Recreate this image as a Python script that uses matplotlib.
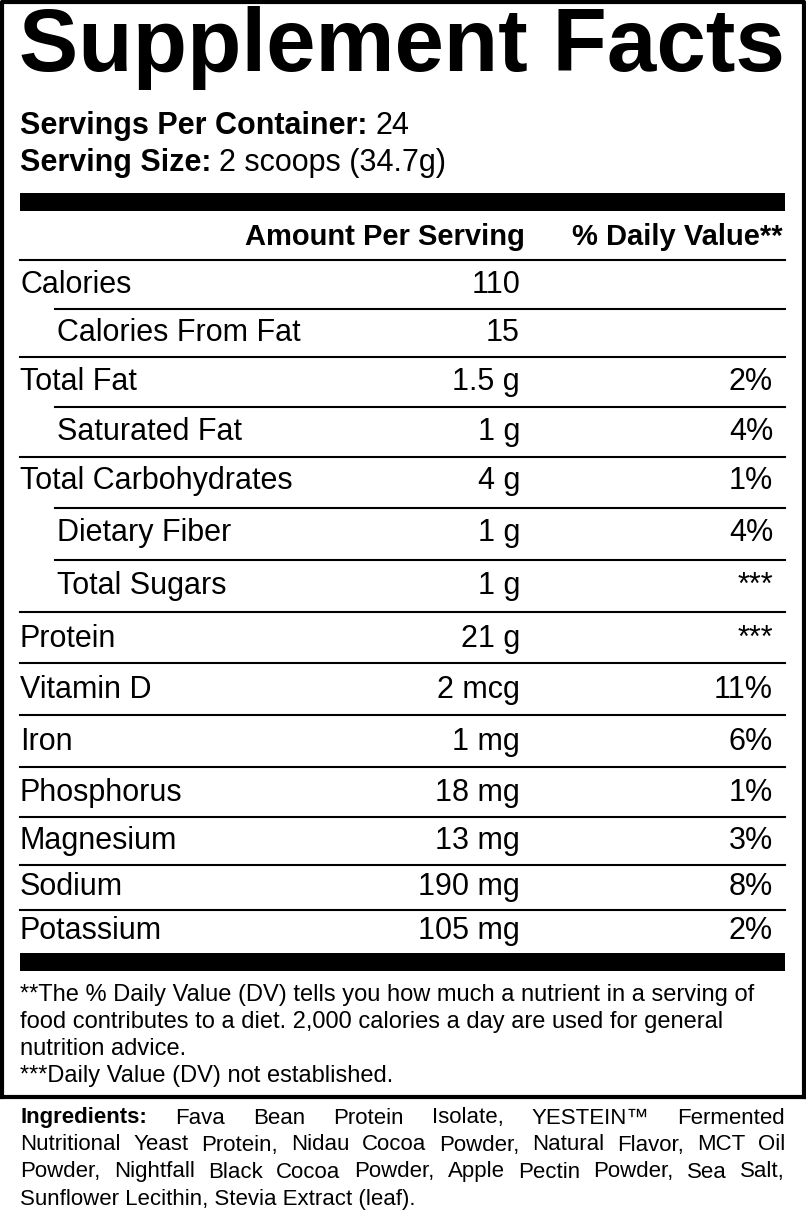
import matplotlib
matplotlib.use("Agg")
import matplotlib.pyplot as plt

servings = "24"
serving_size = "2 scoops (34.7g)"
nutrients = ["Calories", "Calories From Fat", "Total Fat", "Saturated Fat", "Total Carbohydrates",
             "Dietary Fiber", "Total Sugars", "Protein", "Vitamin D", "Iron", "Phosphorus",
             "Magnesium", "Sodium", "Potassium"]
amounts = ["110", "15", "1.5 g", "1 g", "4 g", "1 g", "1 g", "21 g", "2 mcg", "1 mg",
           "18 mg", "13 mg", "190 mg", "105 mg"]
daily = ["", "", "2%", "4%", "1%", "4%", "***", "***", "11%", "6%", "1%", "3%", "8%", "2%"]
indent = [0, 1, 0, 1, 0, 1, 1, 0, 0, 0, 0, 0, 0, 0]
footnotes = ["**The % Daily Value (DV) tells you how much a nutrient in a serving of",
             "food contributes to a diet. 2,000 calories a day are used for general",
             "nutrition advice.",
             "***Daily Value (DV) not established."]
ingredient_lines = ["Fava Bean Protein Isolate, YESTEIN\u2122 Fermented",
                    "Nutritional Yeast Protein, Nidau Cocoa Powder, Natural Flavor, MCT Oil",
                    "Powder, Nightfall Black Cocoa Powder, Apple Pectin Powder, Sea Salt,",
                    "Sunflower Lecithin, Stevia Extract (leaf)."]

plt.rcParams['font.family'] = ['Liberation Sans', 'DejaVu Sans']
fig = plt.figure(figsize=(8.06, 12.17), dpi=100)
ax = fig.add_axes([0, 0, 1, 1])
ax.set_xlim(0, 806); ax.set_ylim(1217, 0); ax.axis('off')

ax.plot([2, 2, 804, 804], [1097, 2, 2, 1097], color='black', lw=3)
ax.plot([0, 806], [1097, 1097], color='black', lw=3)

t = ax.text(402, 48, "Supplement Facts", fontsize=64, fontweight='bold', ha='center', va='center')
fig.canvas.draw()
r = fig.canvas.get_renderer()

t1 = ax.text(20, 126, "Servings Per Container:", fontsize=22, fontweight='bold', va='center')
w1 = t1.get_window_extent(r).width
ax.text(20 + w1 + 8, 126, servings, fontsize=22, va='center')
t2 = ax.text(20, 163, "Serving Size:", fontsize=22, fontweight='bold', va='center')
w2 = t2.get_window_extent(r).width
ax.text(20 + w2 + 8, 163, serving_size, fontsize=22, va='center')

def bar(y0, y1):
    ax.fill_between([20, 785], y0, y1, color='black', lw=0)
bar(193, 211)
ax.text(525, 237, "Amount Per Serving", fontsize=21, fontweight='bold', ha='right', va='center')
ax.text(783, 237, "% Daily Value**", fontsize=21, fontweight='bold', ha='right', va='center')
ax.plot([20, 785], [260, 260], color='black', lw=1.5)

ys = [285, 333, 382, 432, 481, 533, 586, 639, 690, 742, 793, 841, 887, 931]
lines_after = [309, 357, 407, 457, 508, 560, 612, 663, 715, 767, 817, 865, 910]
for i, (n, a, d) in enumerate(zip(nutrients, amounts, daily)):
    y = ys[i]
    ax.text(20 + 37 * indent[i], y, n, fontsize=22, va='center')
    ax.text(520, y, a, fontsize=22, ha='right', va='center')
    if d:
        ax.text(773, y, d, fontsize=22, ha='right', va='center')
    if i < len(lines_after):
        x0 = 55 if indent[i + 1] else 20
        ax.plot([x0, 785], [lines_after[i], lines_after[i]], color='black', lw=1.5)
bar(953, 971)

for k, tx in enumerate(footnotes):
    ax.text(20, 995 + 27 * k, tx, fontsize=17, va='center')

def justify(y, words, x0, x1, first_bold=None):
    items = []
    if first_bold:
        items.append(ax.text(x0, y, first_bold, fontsize=16, fontweight='bold', va='center'))
    for w in words:
        items.append(ax.text(0, y, w, fontsize=16, va='center'))
    widths = [it.get_window_extent(r).width for it in items]
    gap = (x1 - x0 - sum(widths)) / max(len(items) - 1, 1)
    x = x0
    for it, w in zip(items, widths):
        it.set_x(x); x += w + gap

for k, line in enumerate(ingredient_lines):
    y = 1118 + 27 * k
    if k == 0:
        justify(y, line.split(), 20, 785, "Ingredients:")
    elif k < 3:
        justify(y, line.split(), 20, 785)
    else:
        ax.text(20, y, line, fontsize=16, va='center')

fig.savefig("out.png", dpi=100)
